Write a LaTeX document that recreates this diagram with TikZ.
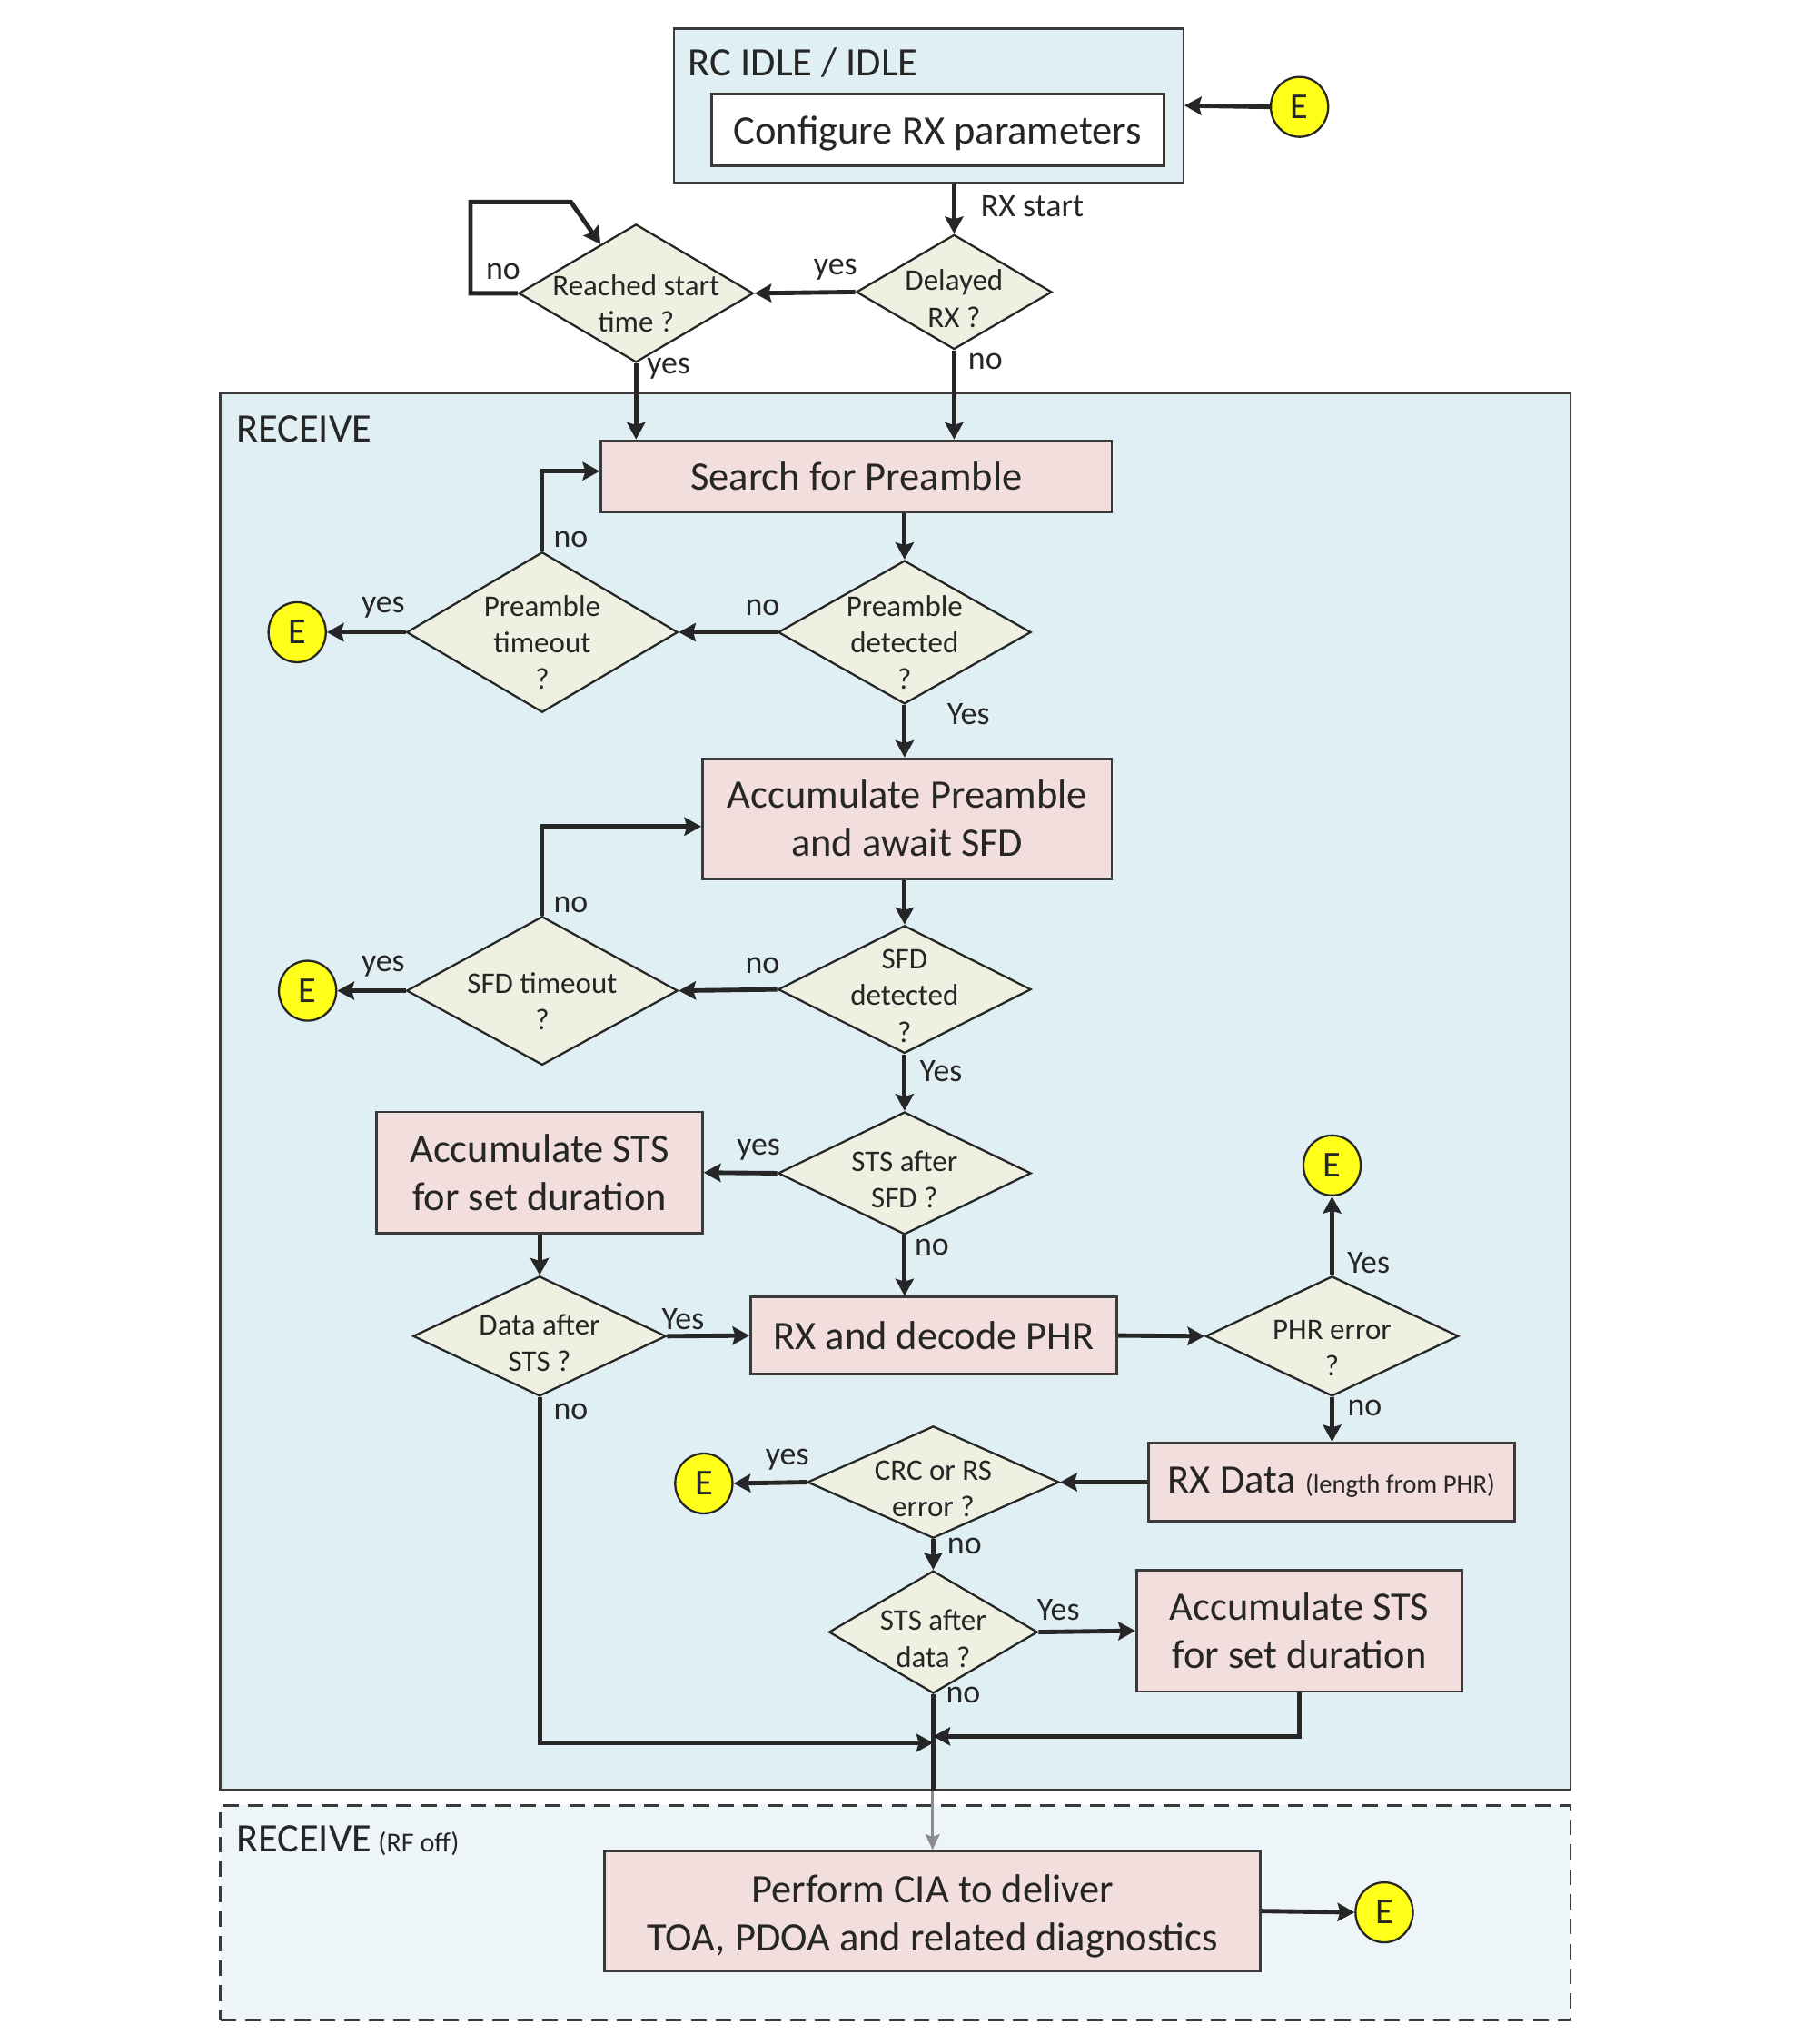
\documentclass[tikz,border=0pt]{standalone}
\usepackage{fontspec}
\setmainfont{Carlito}
\usetikzlibrary{shapes.geometric,arrows.meta,calc}
\definecolor{regblue}{HTML}{DFEFF4}
\definecolor{regoff}{HTML}{EEF5F8}
\definecolor{pinkbox}{HTML}{F2DEDD}
\definecolor{diafill}{HTML}{EEF1E2}
\definecolor{ink}{HTML}{262626}
\definecolor{edgec}{HTML}{3A3A3A}
\definecolor{eyellow}{HTML}{FFFF1A}
\definecolor{grayarr}{HTML}{8C8C8C}
\begin{document}
\begin{tikzpicture}[x=1pt,y=-1pt,
  text=ink,
  region/.style={draw=edgec, line width=1.5pt, fill=regblue, inner sep=0},
  pbox/.style={draw=edgec, line width=1.9pt, fill=pinkbox, align=center, inner sep=0, font=\fontsize{31}{37}\selectfont},
  wbox/.style={draw=edgec, line width=1.9pt, fill=white, align=center, inner sep=0, font=\fontsize{31}{37}\selectfont},
  dia/.style={diamond, draw=ink, line width=1.6pt, fill=diafill, inner sep=0},
  dtxt/.style={font=\fontsize{23}{28}\selectfont, align=center, text=ink, yshift=-5pt},
  ecirc/.style={ellipse, draw=ink, line width=1.6pt, fill=eyellow, minimum width=44pt, minimum height=46pt, inner sep=0, font=\fontsize{28}{30}\selectfont},
  lbl/.style={font=\fontsize{25}{28}\selectfont, text=ink, inner sep=0},
  ttl/.style={font=\fontsize{31}{37}\selectfont, text=ink, inner sep=0, anchor=west},
  flow/.style={draw=ink, line width=3.4pt, -{Stealth[length=13pt,width=14pt,inset=2pt]}},
  plain/.style={draw=ink, line width=3.4pt},
  ]
\useasboundingbox (0,0) rectangle (1383,1568);

% regions
\node[region, minimum width=391pt, minimum height=118pt] (idle) at (712.5,81) {};
\node[ttl] (idlelbl) at (528,48) {RC IDLE / IDLE};
\node[wbox, minimum width=347pt, minimum height=55pt, text depth=0pt, text height=22pt] (cfg) at (719.5,99.5) {Configure RX parameters};
\node[ecirc] (e1) at (997,82) {E};

\node[region, minimum width=1036pt, minimum height=1071pt] (recv) at (687,837.5) {};
\node[ttl] (recvlbl) at (181,329) {RECEIVE};

\node[region, fill=regoff, dashed, dash pattern=on 12pt off 7pt, line width=1.8pt, minimum width=1036pt, minimum height=165pt] (roff) at (687,1467.5) {};
\node[ttl] (rofflbl) at (181,1412) {RECEIVE\,{\fontsize{21}{24}\selectfont(RF off)}};

% decisions before receive
\node[dia, minimum width=150pt, minimum height=88pt, label={[dtxt]center:{Delayed\\RX ?}}] (delayed) at (732,224) {};
\node[dia, minimum width=180pt, minimum height=106pt, label={[dtxt, yshift=-3pt]center:{Reached start\\time ?}}] (reach) at (488,225) {};

% receive content
\node[pbox, minimum width=392pt, minimum height=55pt] (search) at (657,365.5) {Search for Preamble};
\node[dia, minimum width=194pt, minimum height=110pt, label={[dtxt, yshift=-3pt]center:{Preamble\\detected\\?}}] (pdet) at (694,485) {};
\node[dia, minimum width=208pt, minimum height=123pt, label={[dtxt, yshift=-3pt]center:{Preamble\\timeout\\?}}] (ptime) at (416,485) {};
\node[ecirc] (e2) at (228,485) {E};

\node[pbox, minimum width=314pt, minimum height=92pt] (accp) at (696,628) {Accumulate Preamble\\and await SFD};
\node[dia, minimum width=194pt, minimum height=98pt, label={[dtxt]center:{SFD\\detected\\?}}] (sdet) at (694,759) {};
\node[dia, minimum width=208pt, minimum height=114pt, label={[dtxt, yshift=-3pt]center:{SFD timeout\\?}}] (stime) at (416,760) {};
\node[ecirc] (e3) at (236,760) {E};

\node[dia, minimum width=194pt, minimum height=94pt, label={[dtxt]center:{STS after\\SFD ?}}] (stss) at (694,900) {};
\node[pbox, minimum width=250pt, minimum height=93pt] (accl) at (414,899.5) {Accumulate STS\\for set duration};

\node[dia, minimum width=194pt, minimum height=92pt, label={[dtxt]center:{Data after\\STS ?}}] (dats) at (414,1025) {};
\node[pbox, minimum width=281pt, minimum height=59pt] (phr) at (716.5,1024.5) {RX and decode PHR};
\node[dia, minimum width=194pt, minimum height=92pt, label={[dtxt, yshift=-4pt]center:{PHR error\\?}}] (phre) at (1022,1025) {};
\node[ecirc] (e4) at (1022,894) {E};

\node[pbox, minimum width=281pt, minimum height=60pt] (rxd) at (1021.5,1137) {RX Data {\fontsize{20}{24}\selectfont(length from PHR)}};
\node[dia, minimum width=193pt, minimum height=86pt, label={[dtxt]center:{CRC or RS\\error ?}}] (crc) at (716,1137) {};
\node[ecirc] (e5) at (540,1138) {E};

\node[dia, minimum width=160pt, minimum height=94pt, label={[dtxt]center:{STS after\\data ?}}] (stsd) at (716,1252) {};
\node[pbox, minimum width=250pt, minimum height=93pt] (accr) at (997,1251) {Accumulate STS\\for set duration};

\node[pbox, minimum width=503pt, minimum height=92pt, label={[font=\fontsize{31}{37}\selectfont, align=center, text=ink, yshift=-4pt]center:{Perform CIA to deliver\\TOA, PDOA and related diagnostics}}] (cia) at (715.5,1466) {};
\node[ecirc] (e6) at (1062,1467) {E};

% helper coordinates
\coordinate (lpA) at (361,155);
\coordinate (lpB) at (438,155);
\coordinate (mL) at (716,1337);
\coordinate (mR) at (716,1332);

% connectors
\draw[flow] (e1.west) -- (idle.east);
\draw[flow] (idle.south -| delayed.north) -- (delayed.north);
\draw[flow] (delayed.west) -- (reach.east);
\draw[flow] (reach.west) -| (lpA) -- (lpB) -- ($(reach.west)!0.7!(reach.north)$);
\draw[flow] (reach.south) -- (reach.south |- search.north);
\draw[flow] (delayed.south) -- (delayed.south |- search.north);

\draw[flow] (search.south -| pdet.north) -- (pdet.north);
\draw[flow] (pdet.west) -- (ptime.east);
\draw[flow] (ptime.west) -- (e2.east);
\draw[flow] (ptime.north) |- ($(search.west)+(0,-4)$);
\draw[flow] (pdet.south) -- (pdet.south |- accp.north);

\draw[flow] (accp.south -| sdet.north) -- (sdet.north);
\draw[flow] (sdet.west) -- (stime.east);
\draw[flow] (stime.west) -- (e3.east);
\draw[flow] (stime.north) |- ($(accp.west)+(0,6)$);
\draw[flow] (sdet.south) -- (stss.north);

\draw[flow] (stss.west) -- (accl.east);
\draw[flow] (stss.south) -- (stss.south |- phr.north);
\draw[flow] (accl.south) -- (dats.north);
\draw[flow] (dats.east) -- (phr.west);
\draw[flow] (phr.east) -- (phre.west);
\draw[flow] (phre.north) -- (e4.south);
\draw[flow] (phre.south) -- (phre.south |- rxd.north);
\draw[flow] (rxd.west) -- (crc.east);
\draw[flow] (crc.west) -- (e5.east);
\draw[flow] (crc.south) -- (stsd.north);
\draw[flow] (stsd.east) -- (accr.west);
\draw[plain] (stsd.south) -- (stsd.south |- recv.south);
\draw[grayarr, line width=1.8pt, -{Stealth[length=12pt,width=11pt,inset=2pt]}] (cia.north |- recv.south) -- (cia.north);
\draw[flow] (dats.south) |- (mL);
\draw[flow] (accr.south) |- (mR);
\draw[flow] (cia.east) -- (e6.west);

% labels
\node[lbl] (l1) at (792,158) {RX start};
\node[lbl] (l2) at (641,207) {yes};
\node[lbl] (l3) at (386,208) {no};
\node[lbl] (l4) at (513,283) {yes};
\node[lbl] (l5) at (756,277) {no};
\node[lbl] (l6) at (585,466) {no};
\node[lbl] (l7) at (294,466) {yes};
\node[lbl] (l8) at (438,414) {no};
\node[lbl] (l9) at (743,548) {Yes};
\node[lbl] (l10) at (585,741) {no};
\node[lbl] (l11) at (294,741) {yes};
\node[lbl] (l12) at (438,694) {no};
\node[lbl] (l13) at (722,822) {Yes};
\node[lbl] (l14) at (582,882) {yes};
\node[lbl] (l15) at (715,957) {no};
\node[lbl] (l16) at (524,1012) {Yes};
\node[lbl] (l17) at (1050,969) {Yes};
\node[lbl] (l18) at (1047,1080) {no};
\node[lbl] (l19) at (604,1120) {yes};
\node[lbl] (l20) at (740,1186) {no};
\node[lbl] (l21) at (812,1235) {Yes};
\node[lbl] (l22) at (739,1300) {no};
\node[lbl] (l23) at (438,1083) {no};
\end{tikzpicture}
\end{document}
